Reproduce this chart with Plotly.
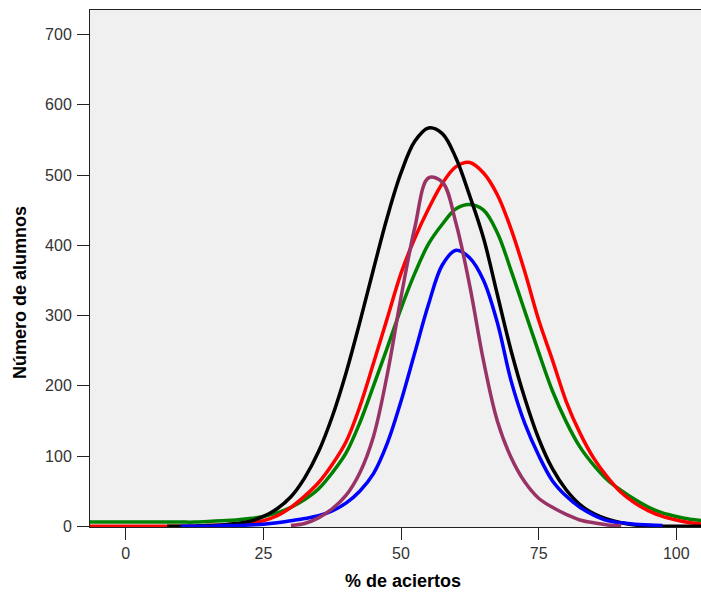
import plotly.graph_objects as go

# % de aciertos grid (x values)
pct = [-7.5, -5, -2.5, 0, 2.5, 5, 7.5, 10, 12.5, 15, 17.5, 20, 22.5, 25, 27.5, 30,
       32.5, 35, 37.5, 40, 42.5, 45, 47.5, 50, 52.5, 55, 57.5, 60, 62.5, 65, 67.5,
       70, 72.5, 75, 77.5, 80, 82.5, 85, 87.5, 90, 92.5, 95, 97.5, 100, 102.5, 105]

N = None
black = [N, N, N, N, N, N, 0, 0, 0, 1, 2, 4, 7, 14, 25, 42,
         69, 106, 156, 218, 290, 366, 440, 503, 548, 567, 559, 524, 470, 410, 330,
         250, 182, 125, 82, 52, 31, 18, 10, 5, 2, 1, 0, 0, 0, 0]
red = [0, 0, 0, 0, 0, 0, 0, 0, 0, 1, 2, 3, 5, 8, 15, 27,
       43, 62, 88, 120, 170, 232, 296, 360, 410, 452, 488, 512, 518, 503, 472,
       423, 362, 294, 237, 178, 133, 97, 70, 48, 33, 22, 14, 9, 5, 3]
green = [6, 6, 6, 6, 6, 6, 6, 6, 6, 7, 8, 9, 11, 14, 19, 27,
         38, 53, 76, 104, 147, 200, 254, 310, 360, 402, 430, 452, 458, 450, 418,
         364, 306, 248, 193, 149, 113, 87, 66, 51, 38, 27, 19, 14, 10, 8]
blue = [N, N, N, N, N, N, N, 0, 0, 0, 1, 1, 2, 3, 5, 8,
        11, 15, 22, 33, 50, 75, 118, 178, 247, 316, 372, 393, 382, 350, 290,
        207, 146, 101, 65, 43, 27, 16, 8, 5, 3, 2, 1, N, N, N]
purple = [N, N, N, N, N, N, N, N, N, N, N, N, N, N, N, 1,
          4, 12, 25, 44, 76, 128, 216, 326, 425, 496, 490, 431, 342, 235, 150,
          98, 63, 40, 27, 17, 9, 5, 2, 1, N, N, N, N, N, N]

x_ticks = [0, 25, 50, 75, 100]
y_ticks = [0, 100, 200, 300, 400, 500, 600, 700]

series = [
    (green, "#008000"),
    (red, "#FF0000"),
    (black, "#000000"),
    (blue, "#0000FF"),
    (purple, "#993366"),
]

fig = go.Figure()
for vals, col in series:
    fig.add_trace(go.Scatter(
        x=pct, y=vals, mode="lines",
        line=dict(color=col, width=3.5, shape="spline", smoothing=1.0),
        connectgaps=False, showlegend=False, hoverinfo="skip"))

tick_font = dict(family="Liberation Sans, Arial, sans-serif", size=16, color="#333333")

fig.update_layout(
    width=701, height=595,
    margin=dict(l=90, r=0, t=10, b=68),
    paper_bgcolor="white",
    plot_bgcolor="#F0F0F0",
    showlegend=False,
    xaxis=dict(
        range=[-6.5, 104.5], tickvals=x_ticks, ticktext=[str(v) for v in x_ticks],
        ticks="outside", ticklen=12, tickwidth=1, tickcolor="#222222",
        showline=True, linecolor="#222222", linewidth=1, mirror=True,
        showgrid=False, zeroline=False, tickfont=tick_font,
    ),
    yaxis=dict(
        range=[-1, 735], tickvals=y_ticks, ticktext=[str(v) for v in y_ticks],
        ticks="outside", ticklen=12, tickwidth=1, tickcolor="#222222",
        showline=True, linecolor="#222222", linewidth=1,
        showgrid=False, zeroline=False, tickfont=tick_font, ticklabelstandoff=2,
    ),
    annotations=[
        dict(text="<b>% de aciertos</b>", xref="paper", yref="paper",
             x=0.512, y=-0.1044, xanchor="center", yanchor="middle", showarrow=False,
             font=dict(family="Liberation Sans, Arial, sans-serif", size=18, color="black")),
        dict(text="<b>Número de alumnos</b>", xref="paper", yref="paper",
             x=-0.1146, y=0.4545, xanchor="center", yanchor="middle", showarrow=False,
             textangle=-90,
             font=dict(family="Liberation Sans, Arial, sans-serif", size=18, color="black")),
    ],
)

fig.write_html(
    "out.html",
    config={"displayModeBar": False},
    post_script="document.body.style.margin='0';document.body.style.overflow='hidden';",
)
